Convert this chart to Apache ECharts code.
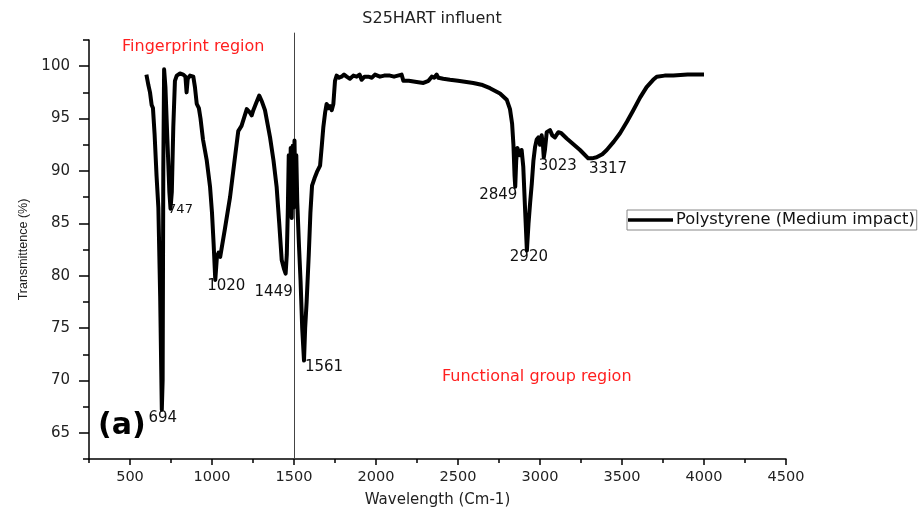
<!DOCTYPE html>
<html><head><meta charset="utf-8">
<script src="https://cdn.jsdelivr.net/npm/echarts@6/dist/echarts.min.js"></script>
<style>html,body{margin:0;padding:0;background:#fff}#c{width:919px;height:514px}</style>
</head><body><div id="c"></div>
<script>
const chartTitle = 'S25HART influent';
const seriesName = 'Polystyrene (Medium impact)';
const xAxisName = 'Wavelength (Cm-1)';
const yAxisName = 'Transmittence (%)';
const regionTexts = ['Fingerprint region', 'Functional group region'];
const panelTag = '(a)';

const wavenumber = [600,612,622,632,640,650,662,673,684,694,699,703,708,716,728,740,747,755,764,774,785,805,825,838,845,852,866,886,896,907,920,930,945,968,988,1000,1010,1020,1030,1040,1050,1079,1110,1140,1160,1180,1212,1230,1242,1252,1270,1288,1305,1323,1354,1375,1394,1410,1425,1440,1449,1456,1462,1468,1474,1480,1486,1492,1498,1503,1508,1514,1520,1530,1540,1550,1561,1568,1577,1590,1600,1610,1625,1640,1659,1670,1679,1690,1699,1710,1720,1730,1740,1750,1760,1775,1790,1805,1821,1841,1862,1882,1900,1912,1930,1953,1975,1994,2024,2050,2085,2110,2156,2167,2200,2248,2289,2320,2340,2355,2370,2380,2410,2451,2500,2593,2650,2695,2756,2797,2817,2830,2838,2845,2849,2855,2862,2870,2878,2888,2898,2910,2920,2930,2940,2950,2960,2970,2980,2990,3000,3010,3018,3023,3030,3041,3061,3075,3091,3112,3130,3163,3200,3244,3294,3317,3345,3380,3407,3450,3488,3530,3569,3610,3650,3690,3712,3760,3813,3900,4000];
const transmittance = [99.2,98.2,97.5,96.3,96.0,93.5,89.5,86.5,78.0,67.2,70.0,90.0,99.7,98.0,93.0,88.0,86.4,88.0,94.2,98.6,99.1,99.3,99.2,99.0,97.5,98.8,99.1,99.0,98.0,96.4,96.0,95.0,93.0,91.0,88.5,86.0,83.0,79.6,81.8,82.2,81.8,84.5,87.5,91.3,93.8,94.3,95.9,95.6,95.3,95.8,96.5,97.2,96.6,95.8,93.2,91.0,88.5,85.0,81.5,80.6,80.2,82.0,86.0,91.5,87.0,92.2,85.5,92.4,86.5,92.9,88.5,91.5,87.0,83.0,79.5,75.0,71.9,75.0,77.5,82.0,86.0,88.6,89.3,89.9,90.5,92.5,94.2,95.6,96.4,96.0,96.2,95.8,96.4,98.6,99.1,98.9,99.0,99.2,99.0,98.8,99.1,99.0,99.2,98.7,99.0,99.0,98.9,99.2,99.0,99.1,99.1,99.0,99.2,98.6,98.6,98.5,98.4,98.6,99.0,98.9,99.2,98.9,98.8,98.7,98.6,98.4,98.2,97.9,97.4,96.8,95.9,94.5,92.5,89.5,88.5,91.0,92.2,92.3,91.5,92.0,90.4,86.0,82.4,85.0,87.0,88.8,91.0,92.3,93.0,93.2,92.5,93.4,92.5,91.3,92.0,93.7,93.9,93.4,93.2,93.7,93.6,93.1,92.6,92.0,91.2,91.2,91.3,91.6,92.0,92.8,93.6,94.7,95.8,97.0,98.0,98.7,99.0,99.1,99.1,99.2,99.2];

const peakWavenumber = [694, 747, 1020, 1449, 1561, 2849, 2920, 3023, 3317];
const peakTransmittance = [67.2, 86.4, 79.6, 80.2, 71.9, 88.5, 82.4, 91.3, 91.2];

const xMajorTicks = [500,1000,1500,2000,2500,3000,3500,4000,4500];
const xMinorTicks = [250,750,1250,1750,2250,2750,3250,3750,4250];
const yMajorTicks = [65,70,75,80,85,90,95,100];
const yMinorTicks = [62.5,67.5,72.5,77.5,82.5,87.5,92.5,97.5,102.5];
const regionDivider = 1500;

// styling only: label offsets in pixels relative to each peak
const labelOffsets = [[1,8],[10,1],[11,6],[-12,19],[20,7],[-17,8],[2,7],[14,9],[16,11]];
const labelSizes = [15,13,15,15,15,15,15,15,15];

const spectrum = wavenumber.map((w, i) => [w, transmittance[i]]);
const peakData = peakWavenumber.map((w, i) => ({
  value: [w, peakTransmittance[i]],
  name: String(w),
  label: { offset: labelOffsets[i], fontSize: labelSizes[i], color: '#111' }
}));

const FONT = 'DejaVu Sans';
const chart = echarts.init(document.getElementById('c'), null, {renderer: 'canvas'});
const txt = (extra) => Object.assign({fontFamily: FONT, fontWeight: 'normal', color: '#222'}, extra);
const plain = v => String(v);

chart.setOption({
  animation: false,
  backgroundColor: '#fff',
  title: [
    {text: chartTitle, left: 432, top: 11, textAlign: 'center', padding: 0, textStyle: txt({fontSize: 16})},
    {text: regionTexts[0], left: 122, top: 39, padding: 0, textStyle: txt({fontSize: 16, color: '#ff1f1f'})},
    {text: regionTexts[1], left: 442, top: 369, padding: 0, textStyle: txt({fontSize: 16, color: '#ff1f1f'})},
    {text: panelTag, left: 98, top: 411, padding: 0, textStyle: txt({fontSize: 30, fontWeight: 'bold', color: '#000'})}
  ],
  legend: {
    data: [{name: seriesName, icon: 'rect'}], left: 627, top: 210, padding: [1,2,1,1],
    itemWidth: 45, itemHeight: 3.5, itemGap: 0,
    borderColor: '#888', borderWidth: 1,
    itemStyle: {color: '#000', borderWidth: 0},
    textStyle: txt({fontSize: 16.3, color: '#111', padding: [0,0,0,-2], lineHeight: 18})
  },
  grid: {left: 89, right: 133, top: 40, bottom: 55},
  xAxis: [
    {type: 'value', min: 250, max: 4500, interval: 250,
     axisLine: {show: true, lineStyle: {color: '#000', width: 1.5}},
     axisTick: {show: true, customValues: xMajorTicks, length: 6, lineStyle: {color: '#000', width: 1.5}},
     axisLabel: {customValues: xMajorTicks, margin: 11, formatter: plain, ...txt({fontSize: 14.5})},
     splitLine: {show: false},
     name: xAxisName, nameLocation: 'middle', nameGap: 34, nameTextStyle: txt({fontSize: 15})},
    {type: 'value', min: 250, max: 4500, interval: 250, position: 'bottom',
     axisLine: {show: false},
     axisTick: {show: true, customValues: xMinorTicks, length: 4, lineStyle: {color: '#000', width: 1.5}},
     axisLabel: {show: false}, splitLine: {show: false}}
  ],
  yAxis: [
    {type: 'value', min: 62.5, max: 102.5, interval: 2.5,
     axisLine: {show: true, lineStyle: {color: '#000', width: 1.5}},
     axisTick: {show: true, customValues: yMajorTicks, length: 10, lineStyle: {color: '#000', width: 1.5}},
     axisLabel: {customValues: yMajorTicks, margin: 19, formatter: plain, ...txt({fontSize: 15})},
     splitLine: {show: false},
     name: yAxisName, nameLocation: 'middle', nameGap: 57,
     nameTextStyle: txt({fontSize: 12.5, fontFamily: 'Liberation Sans'})},
    {type: 'value', min: 62.5, max: 102.5, interval: 2.5, position: 'left',
     axisLine: {show: false},
     axisTick: {show: true, customValues: yMinorTicks, length: 6, lineStyle: {color: '#000', width: 1.5}},
     axisLabel: {show: false}, splitLine: {show: false}}
  ],
  series: [
    {type: 'line', name: seriesName, data: spectrum, xAxisIndex: 0, yAxisIndex: 0,
     symbol: 'none', showSymbol: false, z: 3,
     lineStyle: {color: '#000', width: 4, join: 'round'}, itemStyle: {color: '#000'}},
    {type: 'scatter', name: 'peaks', data: peakData, xAxisIndex: 0, yAxisIndex: 0,
     symbolSize: 1, itemStyle: {color: 'rgba(0,0,0,0)'}, z: 2, silent: true,
     label: {show: true, position: 'inside', formatter: p => p.name, opacity: 1,
             textBorderWidth: 0, ...txt({fontSize: 15, color: '#111'})}}
  ]
});

const p0 = chart.convertToPixel({gridIndex: 0}, [regionDivider, 62.5]);
const p1 = chart.convertToPixel({gridIndex: 0}, [regionDivider, 103.2]);
chart.setOption({
  graphic: [{type: 'line', z: 1, silent: true,
    shape: {x1: Math.round(p0[0]) + 0.5, y1: p0[1], x2: Math.round(p1[0]) + 0.5, y2: p1[1]},
    style: {stroke: '#444', lineWidth: 1}}]
});
</script>
</body></html>
